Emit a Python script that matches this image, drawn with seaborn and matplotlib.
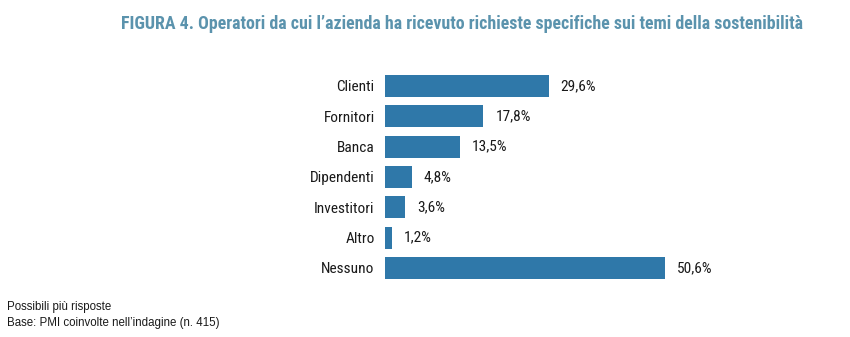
import os
import matplotlib
matplotlib.use("Agg")
import matplotlib.pyplot as plt
from matplotlib import font_manager as fm
import seaborn as sns
import pandas as pd

categories = ["Clienti", "Fornitori", "Banca", "Dipendenti", "Investitori", "Altro", "Nessuno"]
values = [29.6, 17.8, 13.5, 4.8, 3.6, 1.2, 50.6]

title = "FIGURA 4. Operatori da cui l\u2019azienda ha ricevuto richieste specifiche sui temi della sostenibilit\u00e0"
notes = ["Possibili pi\u00f9 risposte", "Base: PMI coinvolte nell\u2019indagine (n. 415)"]

sns.set_theme(style="white")
plt.rcParams["font.family"] = ["Liberation Sans", "DejaVu Sans"]


def narrow_font(bold):
    """Return FontProperties for an installed narrow/condensed sans face."""
    prefs = ["Liberation Sans Narrow", "Roboto Condensed", "DejaVu Sans Condensed",
             "Open Sans Condensed", "Noto Sans Condensed"]
    found = []
    for e in fm.fontManager.ttflist:
        base = os.path.basename(e.fname)
        is_narrow = ("Narrow" in e.name or "Condensed" in e.name or "Narrow" in base
                     or "Condensed" in base or e.stretch in ("condensed", "semi-condensed"))
        if not is_narrow or "Italic" in base or "Oblique" in base or e.style != "normal":
            continue
        w = e.weight if isinstance(e.weight, int) else (700 if "bold" in str(e.weight) else 400)
        if bold != (w >= 600 or "Bold" in base):
            continue
        if "Extra" in base or "Semi" in base or "Light" in base or "Black" in base:
            continue
        found.append(e)
    for p in prefs:
        for e in found:
            if p.replace(" ", "") in os.path.basename(e.fname).replace("-", "").replace(" ", "") \
                    or e.name.startswith(p.split(" Condensed")[0].split(" Narrow")[0]):
                return fm.FontProperties(fname=e.fname)
    if found:
        return fm.FontProperties(fname=found[0].fname)
    return fm.FontProperties(family=["Roboto", "DejaVu Sans"], weight="bold" if bold else "normal")


f_reg = narrow_font(False)
f_bold = narrow_font(True)

df = pd.DataFrame({"operatore": categories, "quota": values})

fig = plt.figure(figsize=(8.5, 3.37), dpi=100)
ax = fig.add_axes([0.453, 0.160, 0.39, 0.630])

sns.barplot(data=df, x="quota", y="operatore", orient="h", color="#2f78a9",
            saturation=1, width=0.72, ax=ax, edgecolor="none")

ax.set_xlim(0, 60)
ax.set_ylim(len(categories) - 0.5, -0.5)
ax.set_xlabel("")
ax.set_ylabel("")
ax.set_xticks([])
ax.tick_params(axis="y", length=0, pad=7.5)
sns.despine(ax=ax, left=True, bottom=True)

renderer = fig.canvas.get_renderer()


def fit(text_obj, fp, width_px, base=12.0):
    """Size a text so that it spans about width_px pixels."""
    p = fp.copy()
    p.set_size(base)
    text_obj.set_fontproperties(p)
    w = text_obj.get_window_extent(renderer).width
    p = fp.copy()
    p.set_size(base * width_px / w)
    text_obj.set_fontproperties(p)
    return p.get_size()


# category labels: size from the widest one
ticklabels = ax.get_yticklabels()
probe = fig.text(0, 0, "Dipendenti")
lab_size = fit(probe, f_reg, 65)
probe.remove()
lab_fp = f_reg.copy()
lab_fp.set_size(lab_size)
for lbl in ticklabels:
    lbl.set_fontproperties(lab_fp)
    lbl.set_color("#1a1a1a")

for i, v in enumerate(values):
    ax.text(v + 2.2, i, f"{v:.1f}".replace(".", ",") + "%", va="center", ha="left",
            fontproperties=lab_fp, color="#1a1a1a")

t = fig.text(0.543, 0.928, title, ha="center", va="center", color="#5b93ad")
fit(t, f_bold, 683)

n_fp = fm.FontProperties(family=["Liberation Sans", "DejaVu Sans"])
n1 = fig.text(0.008, 0.088, notes[0], ha="left", va="center", color="#1a1a1a")
n2 = fig.text(0.008, 0.041, notes[1], ha="left", va="center", color="#1a1a1a")
s = fit(n2, n_fp, 214, base=8)
p1 = n_fp.copy()
p1.set_size(s)
n1.set_fontproperties(p1)

fig.savefig("out.png", dpi=100, facecolor="white")
